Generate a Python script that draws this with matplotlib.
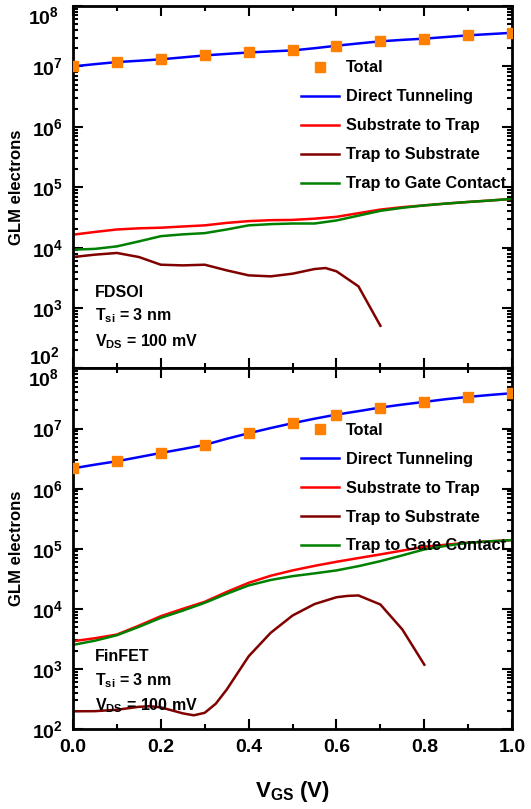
import matplotlib
matplotlib.use("Agg")
import matplotlib.pyplot as plt
import matplotlib.transforms as mtransforms
from matplotlib.ticker import LogLocator, MultipleLocator, NullFormatter, FuncFormatter
import numpy as np

plt.rcParams['font.family'] = ['Liberation Sans', 'DejaVu Sans']
plt.rcParams['font.weight'] = 'bold'
plt.rcParams['mathtext.fontset'] = 'custom'
plt.rcParams['mathtext.rm'] = 'Liberation Sans:bold'
plt.rcParams['mathtext.it'] = 'Liberation Sans:bold'
plt.rcParams['mathtext.bf'] = 'Liberation Sans:bold'

labels = ['Total', 'Direct Tunneling', 'Substrate to Trap',
          'Trap to Substrate', 'Trap to Gate Contact']

# marker positions (Total)
vg_total = [0.0, 0.1, 0.2, 0.3, 0.4, 0.5, 0.6, 0.7, 0.8, 0.9, 1.0]
# curve positions
vg = [0.0, 0.05, 0.1, 0.15, 0.2, 0.25, 0.3, 0.35, 0.4, 0.45, 0.5,
      0.55, 0.6, 0.65, 0.7, 0.75, 0.8, 0.85, 0.9, 0.95, 1.0]

# ---- FDSOI ----
fd_total = [1.0e7, 1.18e7, 1.31e7, 1.52e7, 1.70e7, 1.84e7, 2.2e7, 2.6e7, 2.88e7, 3.27e7, 3.6e7]
fd_dt = [1.0e7, 1.09e7, 1.18e7, 1.24e7, 1.31e7, 1.41e7, 1.52e7, 1.61e7, 1.70e7, 1.77e7, 1.84e7,
         2.0e7, 2.2e7, 2.4e7, 2.6e7, 2.75e7, 2.88e7, 3.07e7, 3.27e7, 3.43e7, 3.6e7]
fd_s2t = [1.64e4, 1.82e4, 2.0e4, 2.09e4, 2.14e4, 2.24e4, 2.34e4, 2.57e4, 2.75e4, 2.85e4, 2.88e4,
          3.02e4, 3.24e4, 3.72e4, 4.27e4, 4.68e4, 5.01e4, 5.37e4, 5.71e4, 6.03e4, 6.41e4]
fd_t2g = [9.27e3, 9.55e3, 1.05e4, 1.27e4, 1.55e4, 1.66e4, 1.74e4, 2.0e4, 2.34e4, 2.45e4, 2.51e4,
          2.51e4, 2.82e4, 3.39e4, 4.07e4, 4.57e4, 5.01e4, 5.37e4, 5.71e4, 6.03e4, 6.41e4]
fd_vg_t2s = [0.0, 0.05, 0.1, 0.15, 0.2, 0.25, 0.3, 0.35, 0.4, 0.45, 0.5, 0.55, 0.575, 0.6, 0.65, 0.7]
fd_t2s = [7.0e3, 7.66e3, 8.17e3, 7.0e3, 5.22e3, 5.09e3, 5.22e3, 4.21e3, 3.48e3, 3.35e3, 3.71e3,
          4.43e3, 4.6e3, 4.06e3, 2.29e3, 509]

# ---- FinFET ----
fin_total = [2.18e6, 2.86e6, 3.93e6, 5.35e6, 8.36e6, 1.23e7, 1.71e7, 2.24e7, 2.78e7, 3.37e7, 3.88e7]
fin_dt = [2.18e6, 2.51e6, 2.86e6, 3.35e6, 3.93e6, 4.57e6, 5.35e6, 6.76e6, 8.36e6, 1.02e7, 1.23e7,
          1.46e7, 1.71e7, 1.95e7, 2.24e7, 2.51e7, 2.78e7, 3.09e7, 3.37e7, 3.63e7, 3.88e7]
fin_s2t = [2.89e3, 3.24e3, 3.73e3, 5.25e3, 7.55e3, 1.0e4, 1.31e4, 1.91e4, 2.71e4, 3.55e4, 4.36e4,
           5.19e4, 6.07e4, 7.0e4, 8.05e4, 9.33e4, 1.08e5, 1.17e5, 1.26e5, 1.33e5, 1.39e5]
fin_t2g = [2.51e3, 2.95e3, 3.64e3, 5.01e3, 7.08e3, 9.33e3, 1.26e4, 1.78e4, 2.45e4, 3.02e4, 3.5e4,
           3.89e4, 4.36e4, 5.13e4, 6.22e4, 7.76e4, 9.75e4, 1.12e5, 1.26e5, 1.33e5, 1.39e5]
fin_vg_t2s = [0.0, 0.05, 0.1, 0.15, 0.175, 0.2, 0.25, 0.275, 0.3, 0.325, 0.35, 0.4, 0.45, 0.5,
              0.55, 0.6, 0.625, 0.65, 0.7, 0.75, 0.8]
fin_t2s = [197, 198, 209, 234, 239, 229, 182, 169, 186, 263, 453, 1622, 3981, 7745,
           1.2e4, 1.56e4, 1.64e4, 1.67e4, 1.18e4, 4529, 1175]

panels = [
    ('FDSOI', fd_total, fd_dt, fd_s2t, fd_vg_t2s, fd_t2s, fd_t2g),
    ('FinFET', fin_total, fin_dt, fin_s2t, fin_vg_t2s, fin_t2s, fin_t2g),
]

fig = plt.figure(figsize=(5.31, 8.09), dpi=100)
ax_top = fig.add_axes([0.1375, 0.5445, 0.827, 0.4481])
ax_bot = fig.add_axes([0.1375, 0.0989, 0.827, 0.4456])


def make_fmt(skip):
    # labels in skip are drawn by hand so they don't collide at the shared border
    def fmt(v, pos):
        e = int(round(np.log10(v)))
        if e in skip:
            return ''
        return r'$10^{%d}$' % e
    return fmt


text_y = {'FDSOI': (0.21, 0.145, 0.075), 'FinFET': (0.20, 0.135, 0.065)}

for ax, (name, tot, dt, s2t, vg_t2s, t2s, t2g) in zip([ax_top, ax_bot], panels):
    ax.plot(vg_total, tot, 's', color='#ff8000', markersize=7.5, label=labels[0], zorder=5)
    ax.plot(vg, dt, color='#0000ff', lw=1.8, label=labels[1])
    ax.plot(vg, s2t, color='#ff0000', lw=1.8, label=labels[2])
    ax.plot(vg_t2s, t2s, color='#800000', lw=1.8, label=labels[3])
    ax.plot(vg, t2g, color='#008000', lw=1.8, label=labels[4])

    ax.set_yscale('log')
    ax.set_ylim(1e2, 1e8)
    ax.set_xlim(0, 1.0)
    ax.yaxis.set_major_locator(LogLocator(base=10, numticks=10))
    ax.yaxis.set_minor_locator(LogLocator(base=10, subs=np.arange(2, 10), numticks=20))
    ax.yaxis.set_minor_formatter(NullFormatter())
    skip = (8, 2) if ax is ax_top else (8,)
    ax.yaxis.set_major_formatter(FuncFormatter(make_fmt(skip)))
    ax.xaxis.set_major_locator(MultipleLocator(0.2))
    ax.xaxis.set_minor_locator(MultipleLocator(0.1))
    ax.tick_params(which='both', direction='in', top=True, right=True, width=1.5)
    ax.tick_params(which='major', length=7, labelsize=14, pad=7)
    ax.tick_params(which='minor', length=3.5)
    for s in ax.spines.values():
        s.set_linewidth(2)
    ax.set_ylabel('GLM electrons', fontsize=12, fontweight='bold', labelpad=6)

    trans = mtransforms.blended_transform_factory(ax.transAxes, ax.transData)
    ax.text(-0.031, 1e8, r'$10^{8}$', transform=trans, fontsize=14, ha='right', va='top')
    if ax is ax_top:
        ax.text(-0.031, 1e2, r'$10^{2}$', transform=trans, fontsize=14, ha='right', va='bottom')

    ax.legend(loc='upper left', bbox_to_anchor=(0.505, 0.868), frameon=False,
              fontsize=11.7, handlelength=2.35, handletextpad=0.4, labelspacing=0.86,
              borderaxespad=0)

    ty = text_y[name]
    ax.text(0.05, ty[0], name, transform=ax.transAxes, fontsize=11.5, fontweight='bold',
            va='center', ha='left')
    ax.text(0.05, ty[1], r'T$_{\mathregular{si}}$ = 3 nm', transform=ax.transAxes,
            fontsize=11.5, fontweight='bold', va='center', ha='left')
    ax.text(0.05, ty[2], r'V$_{\mathregular{DS}}$ = 100 mV', transform=ax.transAxes,
            fontsize=11.5, fontweight='bold', va='center', ha='left')

ax_top.tick_params(labelbottom=False)
ax_bot.set_xlabel(r'V$_{\mathregular{GS}}$ (V)', fontsize=16, fontweight='bold', labelpad=17)
ax_bot.xaxis.set_major_formatter(FuncFormatter(lambda v, p: '%.1f' % v))

fig.savefig('out.png', dpi=100)
